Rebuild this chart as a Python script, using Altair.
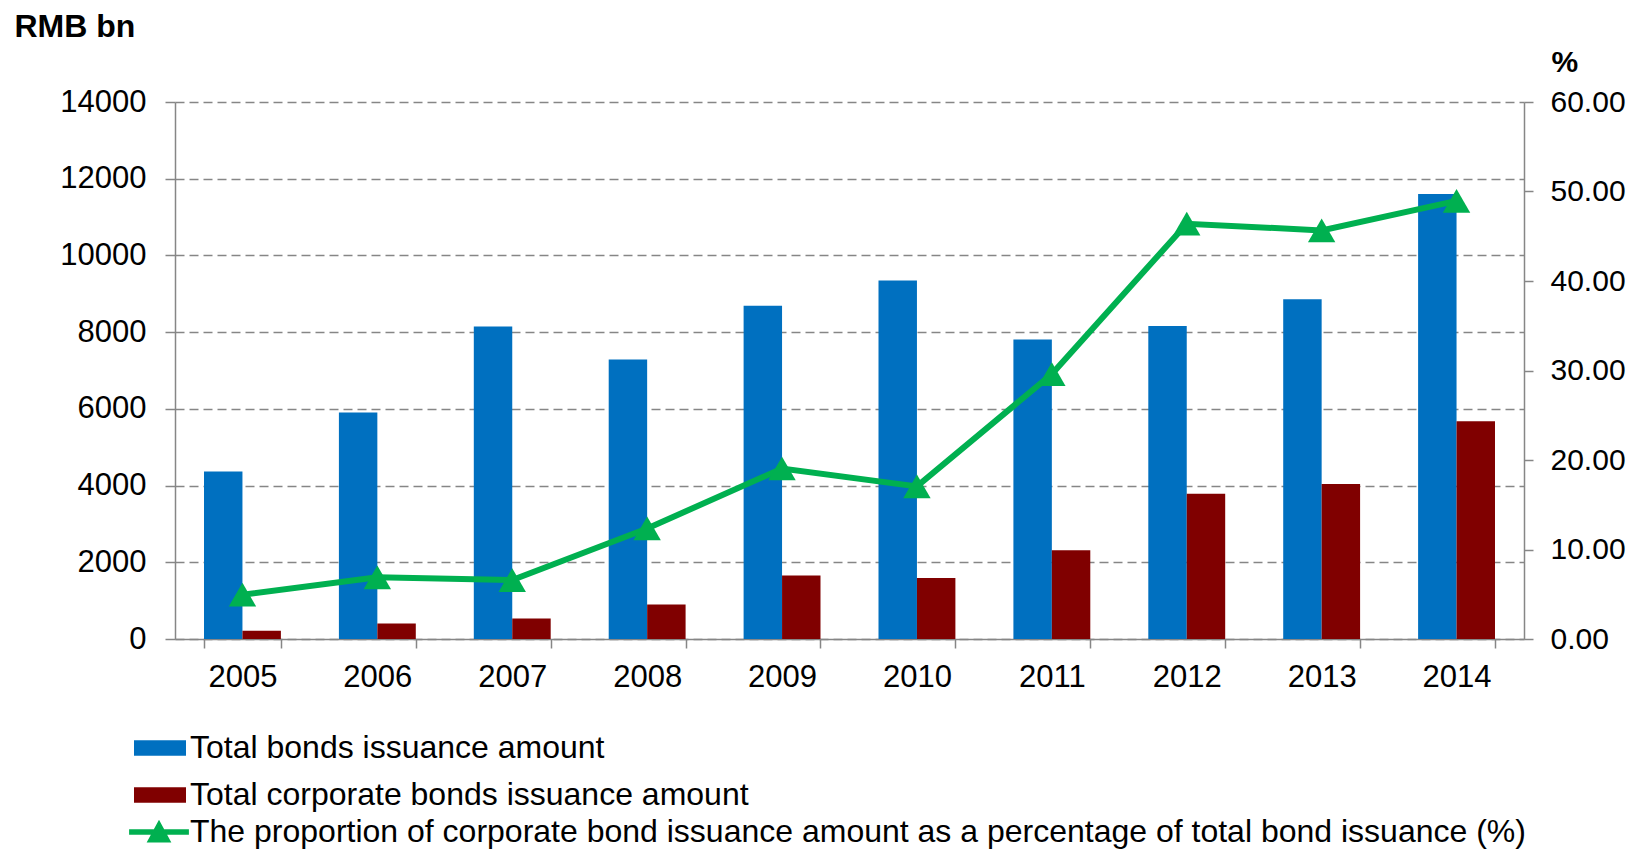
import altair as alt
import pandas as pd

years = ["2005", "2006", "2007", "2008", "2009", "2010", "2011", "2012", "2013", "2014"]
total_bonds = [4370, 5905, 8150, 7290, 8685, 9345, 7810, 8160, 8855, 11600]
corporate_bonds = [216, 407, 537, 900, 1654, 1593, 2312, 3784, 4043, 5680]
proportion_pct = [4.95, 6.89, 6.59, 12.35, 19.05, 17.05, 29.6, 46.4, 45.65, 48.95]

series_names = ["Total bonds issuance amount", "Total corporate bonds issuance amount"]
line_name = "The proportion of corporate bond issuance amount as a percentage of total bond issuance (%)"
left_ticks = [0, 2000, 4000, 6000, 8000, 10000, 12000, 14000]
right_ticks = [0, 10, 20, 30, 40, 50, 60]

BLUE = "#0070C0"
RED = "#800000"
GREEN = "#00B050"
GREY = "#868686"
FONT = "Liberation Sans"

bar_df = pd.DataFrame(
    [{"year": y, "series": series_names[0], "value": v} for y, v in zip(years, total_bonds)]
    + [{"year": y, "series": series_names[1], "value": v} for y, v in zip(years, corporate_bonds)]
)
line_df = pd.DataFrame({"year": years, "pct": proportion_pct, "series2": [line_name] * len(years)})

x_enc = alt.X(
    "year:N",
    sort=years,
    scale=alt.Scale(paddingInner=0.43, paddingOuter=0.215),
    axis=alt.Axis(
        title=None, labelAngle=0, tickBand="extent", grid=False,
        labelFontSize=31, labelFont=FONT, labelColor="black", labelPadding=14,
        domainColor=GREY, domainWidth=1.5, tickColor=GREY, tickWidth=1.5, tickSize=9,
    ),
)

bars = alt.Chart(bar_df).mark_bar().encode(
    x=x_enc,
    xOffset=alt.XOffset("series:N", sort=series_names, scale=alt.Scale(paddingInner=0, paddingOuter=0)),
    y=alt.Y(
        "value:Q",
        scale=alt.Scale(domain=[0, 14000], nice=False),
        axis=alt.Axis(
            values=left_ticks, format="d", grid=True, gridDash=[9, 5], gridColor=GREY, gridWidth=1.5,
            labelFontSize=31, labelFont=FONT, labelColor="black", labelPadding=19,
            domainColor=GREY, domainWidth=1.5, tickColor=GREY, tickWidth=1.5, tickSize=10,
            title="RMB bn", titleAngle=0, titleAlign="left", titleBaseline="middle",
            titleX=-161, titleY=-76, titleFontSize=32, titleFontWeight="bold",
            titleFont=FONT, titleColor="black",
        ),
    ),
    color=alt.Color(
        "series:N",
        sort=series_names,
        scale=alt.Scale(domain=series_names, range=[BLUE, RED]),
        legend=alt.Legend(
            title=None, orient="none", legendX=-31, legendY=630, direction="vertical",
            symbolType="M-2,-0.6L2,-0.6L2,0.6L-2,0.6Z", symbolSize=676, symbolStrokeWidth=0,
            labelFontSize=32, labelFont=FONT, labelColor="black", labelOffset=14,
            rowPadding=15, labelLimit=1500,
        ),
    ),
)

y_right = alt.Y(
    "pct:Q",
    scale=alt.Scale(domain=[0, 60], nice=False),
    axis=alt.Axis(
        orient="right", values=right_ticks, format=".2f", grid=False,
        labelFontSize=30, labelFont=FONT, labelColor="black", labelPadding=17,
        domainColor=GREY, domainWidth=1.5, tickColor=GREY, tickWidth=1.5, tickSize=9,
        title="%", titleAngle=0, titleAlign="left", titleBaseline="middle",
        titleX=27, titleY=-40, titleFontSize=30, titleFontWeight="bold",
        titleFont=FONT, titleColor="black",
    ),
)

line = alt.Chart(line_df).mark_line(color=GREEN, strokeWidth=6).encode(
    x=alt.X("year:N", sort=years),
    y=y_right,
)

points = alt.Chart(line_df).mark_point(shape="triangle-up", filled=True, size=750, opacity=1).encode(
    x=alt.X("year:N", sort=years),
    y=y_right,
    color=alt.Color(
        "series2:N",
        scale=alt.Scale(domain=[line_name], range=[GREEN]),
        legend=alt.Legend(
            title=None, orient="none", legendX=-32, legendY=714, direction="vertical",
            symbolType="M-2.3,-0.22L2.3,-0.22L2.3,0.22L-2.3,0.22Z M0,-0.95L0.95,0.8L-0.95,0.8Z",
            symbolSize=676, symbolStrokeWidth=0, symbolOpacity=1,
            labelFontSize=32, labelFont=FONT, labelColor="black", labelOffset=15,
            labelLimit=1500,
        ),
    ),
)

right_layer = alt.layer(line, points)

chart = (
    alt.layer(bars, right_layer)
    .resolve_scale(y="independent", color="independent")
    .properties(
        width=1349, height=537,
        autosize=alt.AutoSizeParams(type="none"),
        padding={"left": 167, "top": 94, "right": 104, "bottom": 210},
        background="white",
    )
    .configure_view(stroke=None)
)

chart.save("out.html", embed_options={"renderer": "svg", "actions": False})
